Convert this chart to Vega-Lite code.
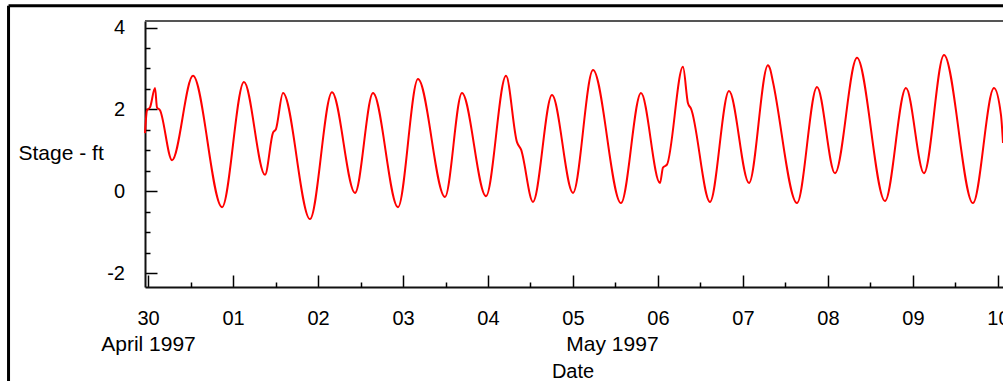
{
  "$schema": "https://vega.github.io/schema/vega-lite/v6.json",
  "autosize": "none",
  "width": 858,
  "height": 266,
  "padding": {"left": 145, "top": 21, "right": 0, "bottom": 94},
  "background": "white",
  "config": {
    "view": {"stroke": null},
    "font": "Liberation Sans"
  },
  "data": {
    "values": [
      {"time": "1997-04-29T23:09", "stage": 1.42},
      {"time": "1997-04-29T23:43", "stage": 1.98},
      {"time": "1997-04-30T00:34", "stage": 2.05},
      {"time": "1997-04-30T01:59", "stage": 2.52},
      {"time": "1997-04-30T02:32", "stage": 2.05},
      {"time": "1997-04-30T03:23", "stage": 1.98},
      {"time": "1997-04-30T06:47", "stage": 0.76},
      {"time": "1997-04-30T12:42", "stage": 2.82},
      {"time": "1997-04-30T20:54", "stage": -0.39},
      {"time": "1997-05-01T03:06", "stage": 2.67},
      {"time": "1997-05-01T09:02", "stage": 0.40},
      {"time": "1997-05-01T11:18", "stage": 1.43},
      {"time": "1997-05-01T12:08", "stage": 1.52},
      {"time": "1997-05-01T14:07", "stage": 2.40},
      {"time": "1997-05-01T21:44", "stage": -0.68},
      {"time": "1997-05-02T03:57", "stage": 2.42},
      {"time": "1997-05-02T10:27", "stage": -0.04},
      {"time": "1997-05-02T15:32", "stage": 2.40},
      {"time": "1997-05-02T22:35", "stage": -0.39},
      {"time": "1997-05-03T04:14", "stage": 2.74},
      {"time": "1997-05-03T11:51", "stage": -0.14},
      {"time": "1997-05-03T16:39", "stage": 2.40},
      {"time": "1997-05-03T23:26", "stage": -0.12},
      {"time": "1997-05-04T05:05", "stage": 2.82},
      {"time": "1997-05-04T08:11", "stage": 1.20},
      {"time": "1997-05-04T09:19", "stage": 1.02},
      {"time": "1997-05-04T12:42", "stage": -0.26},
      {"time": "1997-05-04T18:04", "stage": 2.35},
      {"time": "1997-05-05T00:00", "stage": -0.04},
      {"time": "1997-05-05T05:39", "stage": 2.96},
      {"time": "1997-05-05T13:33", "stage": -0.29},
      {"time": "1997-05-05T19:12", "stage": 2.40},
      {"time": "1997-05-06T00:34", "stage": 0.20},
      {"time": "1997-05-06T01:25", "stage": 0.58},
      {"time": "1997-05-06T02:32", "stage": 0.65},
      {"time": "1997-05-06T07:03", "stage": 3.04},
      {"time": "1997-05-06T08:28", "stage": 2.15},
      {"time": "1997-05-06T09:19", "stage": 2.02},
      {"time": "1997-05-06T14:41", "stage": -0.26},
      {"time": "1997-05-06T20:03", "stage": 2.45},
      {"time": "1997-05-07T01:42", "stage": 0.20},
      {"time": "1997-05-07T07:03", "stage": 3.08},
      {"time": "1997-05-07T07:37", "stage": 3.00},
      {"time": "1997-05-07T08:28", "stage": 2.67},
      {"time": "1997-05-07T15:15", "stage": -0.29},
      {"time": "1997-05-07T20:54", "stage": 2.55},
      {"time": "1997-05-08T01:59", "stage": 0.44},
      {"time": "1997-05-08T08:11", "stage": 3.26},
      {"time": "1997-05-08T16:06", "stage": -0.24},
      {"time": "1997-05-08T22:01", "stage": 2.52},
      {"time": "1997-05-09T03:06", "stage": 0.44},
      {"time": "1997-05-09T08:45", "stage": 3.33},
      {"time": "1997-05-09T16:56", "stage": -0.29},
      {"time": "1997-05-09T22:52", "stage": 2.52},
      {"time": "1997-05-10T00:51", "stage": 1.86},
      {"time": "1997-05-10T01:25", "stage": 1.18}
    ]
  },
  "resolve": {"axis": {"x": "independent", "y": "independent"}},
  "layer": [
    {
      "mark": {"type": "line", "color": "#ff0000", "strokeWidth": 2, "interpolate": "monotone"},
      "encoding": {
        "x": {
          "field": "time",
          "type": "temporal",
          "scale": {
            "domain": [
              {"year": 1997, "month": 4, "date": 29, "hours": 23, "minutes": 9},
              {"year": 1997, "month": 5, "date": 10, "hours": 1, "minutes": 25}
            ]
          },
          "axis": {
            "orient": "bottom",
            "values": [
              {"year": 1997, "month": 4, "date": 30},
              {"year": 1997, "month": 5, "date": 1},
              {"year": 1997, "month": 5, "date": 2},
              {"year": 1997, "month": 5, "date": 3},
              {"year": 1997, "month": 5, "date": 4},
              {"year": 1997, "month": 5, "date": 5},
              {"year": 1997, "month": 5, "date": 6},
              {"year": 1997, "month": 5, "date": 7},
              {"year": 1997, "month": 5, "date": 8},
              {"year": 1997, "month": 5, "date": 9},
              {"year": 1997, "month": 5, "date": 10}
            ],
            "labelExpr": "timeFormat(datum.value, '%d')",
            "tickSize": -12,
            "tickColor": "#000",
            "tickWidth": 1.5,
            "domainColor": "#111",
            "domainWidth": 2,
            "grid": false,
            "labelFlush": false,
            "labelOverlap": false,
            "labelFontSize": 20,
            "labelColor": "#000",
            "labelPadding": 33,
            "title": null
          }
        },
        "y": {
          "field": "stage",
          "type": "quantitative",
          "scale": {"domain": [-2.34, 4.16], "nice": false, "zero": false},
          "axis": {
            "orient": "left",
            "values": [-2, 0, 2, 4],
            "labelExpr": "'' + datum.value",
            "tickSize": -12,
            "tickColor": "#000",
            "tickWidth": 1.5,
            "domainColor": "#111",
            "domainWidth": 2,
            "grid": false,
            "labelFlush": false,
            "labelOverlap": false,
            "labelFontSize": 20,
            "labelColor": "#000",
            "labelPadding": 32.5,
            "title": "Stage - ft",
            "titleAngle": 0,
            "titleAlign": "left",
            "titleBaseline": "alphabetic",
            "titleX": -127,
            "titleY": 138,
            "titleFontSize": 21,
            "titleFontWeight": "normal",
            "titleColor": "#000"
          }
        }
      }
    },
    {
      "mark": {"type": "point", "opacity": 0},
      "encoding": {
        "x": {
          "field": "time",
          "type": "temporal",
          "axis": {
            "orient": "bottom",
            "values": [
              {"year": 1997, "month": 4, "date": 30, "hours": 12},
              {"year": 1997, "month": 5, "date": 1, "hours": 12},
              {"year": 1997, "month": 5, "date": 2, "hours": 12},
              {"year": 1997, "month": 5, "date": 3, "hours": 12},
              {"year": 1997, "month": 5, "date": 4, "hours": 12},
              {"year": 1997, "month": 5, "date": 5, "hours": 12},
              {"year": 1997, "month": 5, "date": 6, "hours": 12},
              {"year": 1997, "month": 5, "date": 7, "hours": 12},
              {"year": 1997, "month": 5, "date": 8, "hours": 12},
              {"year": 1997, "month": 5, "date": 9, "hours": 12}
            ],
            "labels": false,
            "domain": false,
            "grid": false,
            "tickSize": -5,
            "tickColor": "#000",
            "tickWidth": 1.5,
            "title": null
          }
        },
        "y": {
          "field": "stage",
          "type": "quantitative",
          "axis": {
            "orient": "left",
            "values": [-1.5, -1, -0.5, 0.5, 1, 1.5, 2.5, 3, 3.5],
            "labels": false,
            "domain": false,
            "grid": false,
            "tickSize": -5,
            "tickColor": "#000",
            "tickWidth": 1.5,
            "title": null
          }
        }
      }
    },
    {
      "data": {
        "values": [
          {"time": "1997-04-30T00:00"},
          {"time": "1997-05-05T11:00"}
        ]
      },
      "mark": {"type": "point", "opacity": 0},
      "encoding": {
        "x": {
          "field": "time",
          "type": "temporal",
          "axis": {
            "orient": "bottom",
            "values": [
              {"year": 1997, "month": 4, "date": 30},
              {"year": 1997, "month": 5, "date": 5, "hours": 11}
            ],
            "labelExpr": "timeFormat(datum.value, '%B %Y')",
            "ticks": false,
            "domain": false,
            "grid": false,
            "labelFlush": false,
            "labelOverlap": false,
            "labelFontSize": 21,
            "labelColor": "#000",
            "labelPadding": 46,
            "title": "Date",
            "titleFontSize": 20,
            "titleFontWeight": "normal",
            "titleColor": "#000",
            "titleBaseline": "alphabetic",
            "titleX": 427.5,
            "titleY": 90
          }
        }
      }
    },
    {
      "data": {"values": [{}]},
      "mark": {"type": "rule", "color": "#555", "strokeWidth": 2},
      "encoding": {
        "y": {"datum": 4.16, "type": "quantitative", "axis": null}
      }
    },
    {
      "data": {"values": [{}]},
      "mark": {"type": "rule", "color": "#000", "strokeWidth": 3},
      "encoding": {
        "x": {"datum": {"year": 1997, "month": 4, "date": 28, "hours": 8, "minutes": 37}, "type": "temporal", "axis": null},
        "x2": {"datum": {"year": 1997, "month": 5, "date": 12}},
        "y": {"datum": 4.53, "type": "quantitative", "axis": null}
      }
    },
    {
      "data": {"values": [{}]},
      "mark": {"type": "rule", "color": "#000", "strokeWidth": 3},
      "encoding": {
        "x": {"datum": {"year": 1997, "month": 4, "date": 28, "hours": 8, "minutes": 37}, "type": "temporal", "axis": null},
        "y": {"datum": 4.53, "type": "quantitative", "axis": null},
        "y2": {"datum": -6}
      }
    }
  ]
}
